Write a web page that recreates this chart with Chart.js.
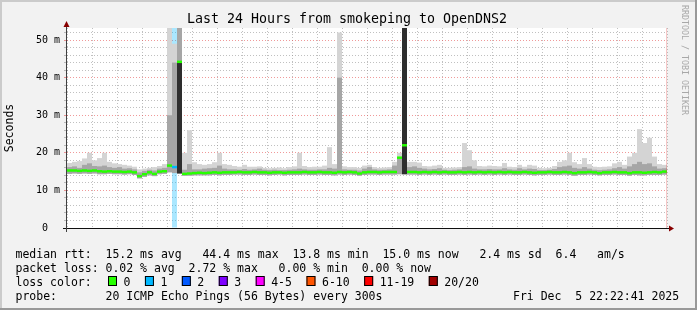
<!DOCTYPE html>
<html>
<head>
<meta charset="utf-8">
<title>Last 24 Hours from smokeping to OpenDNS2</title>
<script src="https://cdn.jsdelivr.net/npm/chart.js@4"></script>
<style>
  html, body { margin: 0; padding: 0; background: #f2f2f2; }
  canvas { display: block; }
</style>
</head>
<body>
<canvas id="smokeChart" width="697" height="310"></canvas>
<script>
// hours are relative to Fri 00:00, the graph covers 24h up to Fri 22:22:41
const startHour = -1.62;
const endHour = 22.38;
const binHours = 0.2; // one value every 12 minutes

// median of the 20 pings per bin (ms)
const medianRtt = [
  15.3, 15.3, 15.2, 15.3, 15.2, 15.3, 15.1, 15.0, 15.1, 15.0,
  15.0, 14.9, 15.0, 14.8, 13.8, 14.3, 14.8, 14.4, 15.0, 15.1,
  16.6, 16.2, 44.2, 14.4, 14.5, 14.6, 14.7, 14.6, 14.7, 14.8,
  14.7, 14.8, 14.8, 14.8, 14.9, 14.8, 14.8, 14.9, 14.8, 14.8,
  14.7, 14.8, 14.8, 14.7, 14.8, 14.8, 14.8, 14.9, 14.8, 14.8,
  14.9, 14.8, 14.8, 14.7, 14.9, 14.8, 14.9, 14.8, 14.5, 14.8,
  14.9, 14.9, 14.8, 14.9, 14.9, 14.9, 18.7, 22.0, 14.9, 14.9,
  14.8, 14.9, 14.8, 14.9, 14.8, 14.9, 14.8, 14.8, 14.9, 14.8,
  14.9, 14.8, 14.9, 14.8, 14.9, 14.8, 14.9, 14.8, 14.9, 14.8,
  14.8, 14.9, 14.8, 14.7, 14.8, 14.8, 14.9, 14.8, 14.8, 14.9,
  14.8, 14.6, 14.8, 14.8, 14.9, 14.8, 14.6, 14.8, 14.8, 14.9,
  14.8, 14.8, 14.6, 14.8, 14.8, 14.7, 14.8, 14.9, 14.8, 15.0
];

// fastest ping per bin (ms)
const pingMin = [
  14.4, 14.5, 14.4, 14.5, 14.4, 14.5, 14.3, 14.3, 14.4, 14.3,
  14.3, 14.2, 14.3, 14.1, 13.2, 13.6, 14.0, 13.8, 14.3, 14.4,
  14.8, 14.6, 14.5, 13.9, 13.9, 14.0, 14.0, 14.0, 14.0, 14.1,
  14.0, 14.1, 14.1, 14.2, 14.2, 14.1, 14.1, 14.2, 14.1, 14.1,
  14.0, 14.1, 14.2, 14.0, 14.1, 14.1, 14.1, 14.2, 14.1, 14.1,
  14.2, 14.1, 14.1, 14.0, 14.2, 14.1, 14.2, 14.1, 13.9, 14.1,
  14.2, 14.2, 14.1, 14.2, 14.2, 14.2, 14.3, 14.3, 14.2, 14.2,
  14.1, 14.2, 14.1, 14.2, 14.1, 14.2, 14.1, 14.1, 14.2, 14.1,
  14.2, 14.1, 14.2, 14.1, 14.2, 14.1, 14.2, 14.1, 14.2, 14.1,
  14.1, 14.2, 14.1, 14.0, 14.1, 14.1, 14.2, 14.1, 14.1, 14.2,
  14.1, 13.9, 14.1, 14.1, 14.2, 14.1, 14.0, 14.1, 14.1, 14.2,
  14.1, 14.1, 13.9, 14.1, 14.0, 14.0, 14.1, 14.1, 14.1, 14.2
];

// upper edge of the dense part of the smoke (ms)
const pingMid = [
  16.2, 16.4, 16.0, 16.8, 17.2, 16.5, 16.4, 16.6, 16.2, 16.0,
  16.2, 15.8, 15.9, 15.6, 14.8, 15.2, 15.5, 15.3, 15.8, 16.0,
  30.0, 44.0, 55.0, 15.5, 17.0, 15.6, 15.6, 15.8, 15.9, 16.0,
  16.6, 15.8, 15.6, 15.6, 15.5, 15.7, 15.5, 15.6, 15.8, 15.5,
  15.4, 15.5, 15.4, 15.4, 15.5, 15.6, 15.8, 15.6, 15.5, 15.5,
  15.6, 15.6, 16.0, 15.8, 40.0, 15.6, 15.5, 15.5, 15.3, 15.8,
  16.2, 15.6, 15.5, 15.5, 15.6, 16.6, 18.5, 55.0, 16.2, 16.4,
  16.0, 15.8, 15.6, 15.7, 15.9, 15.5, 15.4, 15.5, 15.6, 16.2,
  16.4, 15.8, 15.6, 15.6, 15.7, 15.6, 15.6, 15.9, 15.6, 15.5,
  15.9, 15.6, 15.8, 15.7, 15.4, 15.4, 15.5, 15.7, 16.2, 16.4,
  16.6, 16.0, 15.8, 16.2, 15.8, 15.5, 15.4, 15.5, 15.6, 15.9,
  16.2, 15.8, 16.4, 17.0, 17.6, 17.0, 17.2, 16.4, 15.8, 15.9
];

// slowest ping per bin (ms)
const pingMax = [
  17.3, 17.6, 17.8, 18.5, 20.0, 18.0, 18.6, 20.0, 17.6, 17.2,
  17.0, 16.8, 16.6, 16.3, 15.6, 15.8, 16.0, 16.2, 16.5, 17.0,
  55.0, 49.0, 55.0, 20.0, 26.0, 17.5, 17.0, 16.8, 17.0, 17.5,
  20.0, 17.0, 16.8, 16.5, 16.3, 16.8, 16.3, 16.3, 16.4, 16.0,
  15.9, 16.0, 16.1, 15.9, 16.2, 16.4, 20.0, 16.5, 16.2, 16.3,
  16.3, 16.6, 21.5, 17.0, 52.0, 16.4, 16.2, 16.2, 16.0, 16.6,
  16.8, 16.2, 16.0, 16.1, 16.2, 17.6, 20.0, 55.0, 17.6, 17.6,
  17.4, 16.5, 16.4, 16.6, 16.8, 16.0, 16.0, 16.1, 16.2, 22.6,
  20.7, 18.0, 16.5, 16.4, 16.6, 16.5, 16.4, 17.3, 16.3, 16.2,
  16.8, 16.3, 16.8, 16.6, 16.0, 15.9, 16.0, 16.5, 17.6, 18.0,
  20.0, 17.5, 17.0, 18.6, 17.0, 16.3, 16.2, 16.3, 16.4, 17.2,
  17.6, 16.8, 19.0, 20.0, 26.3, 22.6, 24.0, 19.0, 17.0, 16.8
];

// bins where most pings sit far above the median (very dark smoke)
const heavyBins = [22, 67];
const heavyTop = [44.0, 55.0];

// bins with packet loss
const lossBins = [21];
const lossCount = [1];

const lossLabels = ['0', '1', '2', '3', '4-5', '6-10', '11-19', '20/20'];
const lossColors = ['#26ff00', '#00b8ff', '#0059ff', '#7e00ff', '#ff00ff', '#ff5500', '#ff0000', '#a10000'];

const chartTitle = 'Last 24 Hours from smokeping to OpenDNS2';
const rttLine = 'median rtt:  15.2 ms avg   44.4 ms max  13.8 ms min  15.0 ms now   2.4 ms sd  6.4   am/s';
const lossLine = 'packet loss: 0.02 % avg  2.72 % max   0.00 % min  0.00 % now';
const probeText = '20 ICMP Echo Pings (56 Bytes) every 300s';
const stampText = 'Fri Dec  5 22:22:41 2025';

const yMax = 53.2;
const mono = "'DejaVu Sans Mono', monospace";
const minorGrid = 'rgba(140,140,140,0.55)';
const majorGrid = 'rgba(228,70,70,0.55)';

const binMid = i => startHour + (i + 0.5) * binHours;

function lossIndex(n) {
  if (n <= 3) return n;
  if (n <= 5) return 4;
  if (n <= 10) return 5;
  if (n <= 19) return 6;
  return 7;
}

function binLossColor(i) {
  const k = lossBins.indexOf(i);
  return lossColors[k < 0 ? 0 : lossIndex(lossCount[k])];
}

const barBase = {
  type: 'bar',
  grouped: false,
  barPercentage: 1,
  categoryPercentage: 1,
  borderWidth: 0,
  inflateAmount: 0,
  clip: 0,
};

const frame = {
  id: 'frame',
  beforeDraw(chart) {
    const { ctx, width, height, chartArea: a } = chart;
    ctx.save();
    ctx.fillStyle = '#f2f2f2';
    ctx.fillRect(0, 0, width, height);
    ctx.fillStyle = '#cbcbcb';
    ctx.fillRect(0, 0, width, 2);
    ctx.fillRect(0, 0, 2, height);
    ctx.fillStyle = '#999999';
    ctx.fillRect(0, height - 2, width, 2);
    ctx.fillRect(width - 2, 0, 2, height);
    ctx.fillStyle = '#ffffff';
    ctx.fillRect(a.left, a.top, a.right - a.left, a.bottom - a.top);
    ctx.restore();
  },
  afterDraw(chart) {
    const { ctx, chartArea: a } = chart;
    ctx.save();

    // title
    ctx.fillStyle = '#000';
    ctx.font = '13.3px ' + mono;
    ctx.textAlign = 'center';
    ctx.textBaseline = 'alphabetic';
    ctx.fillText(chartTitle, 347, 22.5);

    // right edge of the graph
    ctx.strokeStyle = 'rgba(228,70,70,0.3)';
    ctx.lineWidth = 1;
    ctx.beginPath();
    ctx.moveTo(a.right - 0.5, a.top);
    ctx.lineTo(a.right - 0.5, a.bottom);
    ctx.stroke();

    // axes and arrows
    ctx.strokeStyle = '#101010';
    ctx.beginPath();
    ctx.moveTo(a.left - 4, a.bottom + 0.5);
    ctx.lineTo(a.right + 3, a.bottom + 0.5);
    ctx.stroke();
    ctx.strokeStyle = '#404040';
    ctx.beginPath();
    ctx.moveTo(a.left - 0.5, a.bottom + 4);
    ctx.lineTo(a.left - 0.5, a.top - 2);
    ctx.stroke();
    ctx.fillStyle = '#880000';
    ctx.beginPath();
    ctx.moveTo(a.left - 0.5, a.top - 7);
    ctx.lineTo(a.left - 3.5, a.top - 1);
    ctx.lineTo(a.left + 2.5, a.top - 1);
    ctx.fill();
    ctx.beginPath();
    ctx.moveTo(a.right + 7, a.bottom + 0.5);
    ctx.lineTo(a.right + 2, a.bottom - 2.5);
    ctx.lineTo(a.right + 2, a.bottom + 3.5);
    ctx.fill();

    // legend / stats
    ctx.fillStyle = '#000';
    ctx.font = '11.5px ' + mono;
    ctx.textAlign = 'left';
    ctx.textBaseline = 'alphabetic';
    const cw = ctx.measureText('0').width;
    ctx.fillText(rttLine, 15.5, 258);
    ctx.fillText(lossLine, 15.5, 272);
    ctx.fillText('loss color:', 15.5, 286);
    let bx = 108;
    lossLabels.forEach((lab, k) => {
      ctx.fillStyle = lossColors[k];
      ctx.fillRect(bx, 276, 9, 10);
      ctx.strokeStyle = '#000';
      ctx.strokeRect(bx + 0.5, 276.5, 8, 9);
      ctx.fillStyle = '#000';
      ctx.fillText(lab, bx + 15.5, 286);
      bx += 30 + lab.length * cw;
    });
    ctx.fillText('probe:', 15.5, 300);
    ctx.fillText(probeText, 15.5 + 13 * cw, 300);
    ctx.fillText(stampText, 513, 300);

    // rrdtool credit
    ctx.translate(684, 5);
    ctx.rotate(Math.PI / 2);
    ctx.font = '8.3px ' + mono;
    ctx.fillStyle = '#a8a8a8';
    ctx.textBaseline = 'middle';
    ctx.fillText('RRDTOOL / TOBI OETIKER', 0, 0);
    ctx.restore();
  }
};

const isMajor = (c, step) => c.tick && Math.abs(c.tick.value % step) < 1e-6;

new Chart(document.getElementById('smokeChart'), {
  type: 'bar',
  data: {
    datasets: [
      {
        ...barBase,
        label: 'loss',
        order: 5,
        data: lossBins.map(b => ({ x: binMid(b), y: [0, yMax] })),
        backgroundColor: c => lossColors[lossIndex(lossCount[c.dataIndex])] + '55',
      },
      {
        ...barBase,
        label: 'smoke',
        order: 4,
        data: pingMax.map((v, i) => ({ x: binMid(i), y: [pingMin[i], v] })),
        backgroundColor: '#d4d4d4',
      },
      {
        ...barBase,
        label: 'smoke dense',
        order: 3,
        data: pingMid.map((v, i) => ({ x: binMid(i), y: [pingMin[i], v] })),
        backgroundColor: '#a6a6a6',
      },
      {
        ...barBase,
        label: 'smoke heavy',
        order: 2,
        data: heavyBins.map((b, k) => ({ x: binMid(b), y: [pingMin[b], heavyTop[k]] })),
        backgroundColor: '#2e2e2e',
      },
      {
        ...barBase,
        label: 'median rtt',
        order: 1,
        data: medianRtt.map((m, i) => ({ x: binMid(i), y: [m - 0.33, m + 0.33] })),
        backgroundColor: c => binLossColor(c.dataIndex),
      },
    ],
  },
  options: {
    responsive: false,
    animation: false,
    events: [],
    layout: { padding: { left: 0, right: 30, top: 28, bottom: 62 } },
    plugins: {
      legend: { display: false },
      tooltip: { enabled: false },
      title: { display: false },
    },
    scales: {
      x: {
        type: 'linear',
        min: startHour,
        max: endHour,
        offset: false,
        afterFit: s => { s.height = 20; },
        ticks: {
          stepSize: 1,
          autoSkip: false,
          maxRotation: 0,
          includeBounds: false,
          padding: 1,
          color: '#000',
          font: { family: mono, size: 10 },
          callback: v => (v % 4 === 0 ? 'Fri ' + String(v).padStart(2, '0') + ':00' : ''),
        },
        grid: {
          offset: false,
          lineWidth: 1,
          color: c => (isMajor(c, 2) ? majorGrid : minorGrid),
          tickColor: c => (isMajor(c, 2) ? majorGrid : 'rgba(0,0,0,0)'),
          tickLength: 3,
        },
        border: { display: false, dash: [1, 2] },
      },
      y: {
        type: 'linear',
        min: 0,
        max: yMax,
        afterFit: s => { s.width = 67; },
        ticks: {
          stepSize: 2,
          autoSkip: false,
          includeBounds: false,
          padding: 4,
          color: '#000',
          font: { family: mono, size: 10 },
          callback: v => (v === 0 ? '0  ' : (v % 10 === 0 ? v + ' m' : '')),
        },
        grid: {
          lineWidth: 1,
          color: c => (isMajor(c, 10) ? majorGrid : minorGrid),
          tickColor: c => (isMajor(c, 10) ? majorGrid : minorGrid),
          tickLength: 3,
        },
        border: { display: false, dash: [1, 2] },
        title: {
          display: true,
          text: 'Seconds',
          color: '#000',
          font: { family: mono, size: 11.5 },
          padding: { top: 3, bottom: 0 },
        },
      },
    },
  },
  plugins: [frame],
});
</script>
</body>
</html>
